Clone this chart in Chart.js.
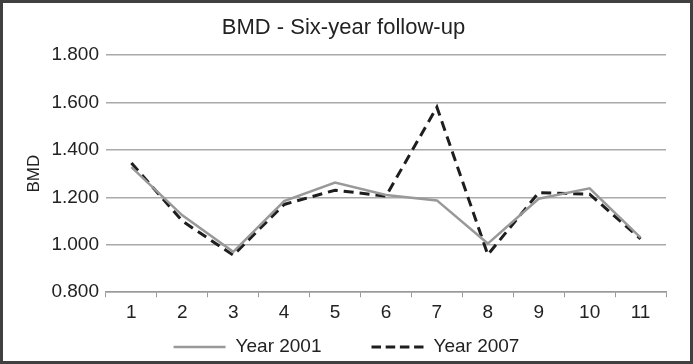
<!DOCTYPE html>
<html>
<head>
<meta charset="utf-8">
<script src="https://cdn.jsdelivr.net/npm/chart.js@4"></script>
<style>
  html, body { margin: 0; padding: 0; background: #fff; }
  .frame { width: 693px; height: 364px; box-sizing: border-box; border: 3px solid #404040; background: #fff; }
  .frame canvas { display: block; }
</style>
</head>
<body>
<div class="frame"><canvas id="bmdChart" width="687" height="358"></canvas></div>
<script>
// BMD six-year follow-up
const categories = ["1", "2", "3", "4", "5", "6", "7", "8", "9", "10", "11"];
const year2001 = [1.327, 1.124, 0.970, 1.184, 1.262, 1.210, 1.187, 1.005, 1.194, 1.238, 1.030];
const year2007 = [1.345, 1.100, 0.956, 1.170, 1.230, 1.205, 1.580, 0.958, 1.220, 1.213, 1.025];
const yTicks = [0.8, 1.0, 1.2, 1.4, 1.6, 1.8];

const font = "'Liberation Sans', Arial, sans-serif";

// legend drawn under the axis: line sample, label, wide gap between the two items
const bottomLegend = {
  id: "bottomLegend",
  afterDraw(chart, args, opts) {
    const { ctx } = chart;
    ctx.save();
    ctx.font = `${opts.size}px ${font}`;
    const items = chart.data.datasets.map((ds) => ({ ds, w: ctx.measureText(ds.label).width }));
    const total = items.reduce((s, it) => s + opts.lineLength + opts.textGap + it.w, 0) + opts.itemGap * (items.length - 1);
    let x = (chart.width - total) / 2;
    const y = chart.height - opts.bottom;
    items.forEach(({ ds, w }) => {
      ctx.strokeStyle = ds.borderColor;
      ctx.lineWidth = ds.borderWidth;
      ctx.setLineDash(ds.legendDash || []);
      ctx.beginPath();
      ctx.moveTo(x, y);
      ctx.lineTo(x + opts.lineLength, y);
      ctx.stroke();
      x += opts.lineLength + opts.textGap;
      ctx.fillStyle = "#222";
      ctx.textBaseline = "middle";
      ctx.fillText(ds.label, x, y);
      x += w + opts.itemGap;
    });
    ctx.restore();
  }
};

new Chart(document.getElementById("bmdChart"), {
  type: "line",
  data: {
    labels: categories,
    datasets: [
      {
        label: "Year 2001",
        data: year2001,
        borderColor: "#999999",
        backgroundColor: "#999999",
        borderWidth: 2.5,
        pointRadius: 0,
        tension: 0
      },
      {
        label: "Year 2007",
        data: year2007,
        borderColor: "#1e1e1e",
        backgroundColor: "#1e1e1e",
        borderWidth: 3,
        borderDash: [10, 6],
        legendDash: [9.5, 4.7],
        pointRadius: 0,
        tension: 0
      }
    ]
  },
  plugins: [bottomLegend],
  options: {
    responsive: false,
    animation: false,
    layout: { padding: { left: 18, right: 24, top: 4, bottom: 33 } },
    plugins: {
      title: {
        display: true,
        text: "BMD - Six-year follow-up",
        color: "#222",
        font: { family: font, size: 22, weight: "normal" },
        padding: { top: 8, bottom: 13.6 }
      },
      legend: { display: false },
      bottomLegend: { size: 19, lineLength: 52, textGap: 10, itemGap: 50, bottom: 14 },
      tooltip: { enabled: false }
    },
    scales: {
      x: {
        offset: true,
        grid: { offset: true, drawOnChartArea: false, drawTicks: true, tickLength: 5, color: "#999999" },
        border: { display: true, color: "#999999", width: 1.5 },
        ticks: { color: "#222", font: { family: font, size: 19 }, padding: 4 }
      },
      y: {
        min: 0.8,
        max: 1.8,
        afterBuildTicks: (axis) => { axis.ticks = yTicks.map((v) => ({ value: v })); },
        grid: { color: "#aaaaaa", lineWidth: 1.5, drawTicks: false },
        border: { display: false },
        ticks: {
          color: "#222",
          font: { family: font, size: 19 },
          padding: 7,
          callback: (value) => Number(value).toFixed(3)
        },
        title: {
          display: true,
          text: "BMD",
          color: "#222",
          font: { family: font, size: 17 },
          padding: { top: 3, bottom: 0 }
        }
      }
    }
  }
});
</script>
</body>
</html>
